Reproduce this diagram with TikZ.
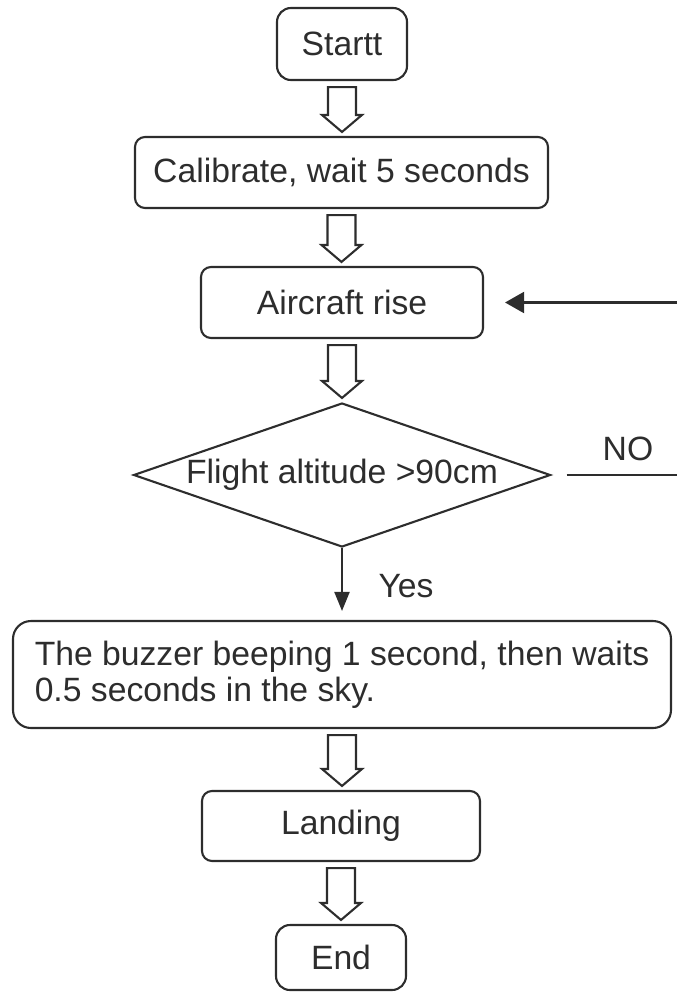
\documentclass[tikz,border=0pt]{standalone}
\usepackage{fontspec}
\setmainfont{Liberation Sans}
\usepackage{tikz}
\usetikzlibrary{calc,positioning,shapes.geometric,arrows.meta}
\definecolor{inkgray}{RGB}{45,45,45}
\tikzset{
  procbox/.style={draw=inkgray, line width=2.1pt, rounded corners=10pt, inner sep=0pt, text=inkgray},
  decbox/.style={draw=inkgray, line width=2.1pt, diamond, aspect=2.9, inner sep=0pt,
    minimum width=417pt, minimum height=144pt, text=inkgray},
  flowline/.style={draw=inkgray, line width=2.1pt},
}
\newcommand{\blockarrow}[2]{%
  \draw[flowline, line join=miter] let \p1=($(#1.south)+(0,-6pt)$), \p2=($(#2.north)+(0,4pt)$) in
    (\x1-14pt,\y1) -- (\x1+14pt,\y1) -- (\x1+14pt,\y2+17pt) -- (\x1+20pt,\y2+17pt)
    -- (\x1,\y2) -- (\x1-20pt,\y2+17pt) -- (\x1-14pt,\y2+17pt) -- cycle;}

\begin{document}
\begin{tikzpicture}[x=1pt, y=-1pt, font=\fontsize{33.7pt}{36pt}\selectfont]
\useasboundingbox (0,0) rectangle (677,993);

\node[procbox, rounded corners=14pt, minimum width=130pt, minimum height=72pt] (start) at (342,44) {Startt};
\node[procbox, minimum width=413pt, minimum height=71pt] (calib) at (341.5,172.5) {Calibrate, wait 5 seconds};
\node[procbox, minimum width=282pt, minimum height=71pt] (rise) at (342,302.5) {Aircraft rise};
\node[decbox] (alt) at (342,475) {Flight altitude >90cm};
\node[procbox, rounded corners=18pt, align=left, minimum width=658pt,
  minimum height=107pt] (buzz) at (342,674.5) {The buzzer beeping 1 second, then waits\\0.5 seconds in the sky.};
\node[procbox, minimum width=278pt, minimum height=70pt] (land) at (341,826) {Landing};
\node[procbox, rounded corners=14pt, minimum width=130pt, minimum height=65pt] (finish) at (341,957.5) {End};

\coordinate (rim) at (677,0);
\coordinate (backin) at (rise.east -| rim);
\coordinate (noend) at (alt.east -| rim);

\blockarrow{start}{calib}
\blockarrow{calib}{rise}
\blockarrow{rise}{alt}
\blockarrow{buzz}{land}
\blockarrow{land}{finish}

\draw[flowline, -{Triangle[width=21pt,length=19pt]}, shorten >=21pt] (backin) -- (rise.east);
\draw[flowline, shorten <=15pt] (alt.east) -- (noend);
\draw[flowline, -{Triangle[width=15pt,length=19pt]}, shorten >=9pt] (alt.south) -- (buzz.north);

\node[text=inkgray] (nolabel) at (628,449) {NO};
\node[text=inkgray] (yeslabel) at (406,586) {Yes};
\end{tikzpicture}
\end{document}
